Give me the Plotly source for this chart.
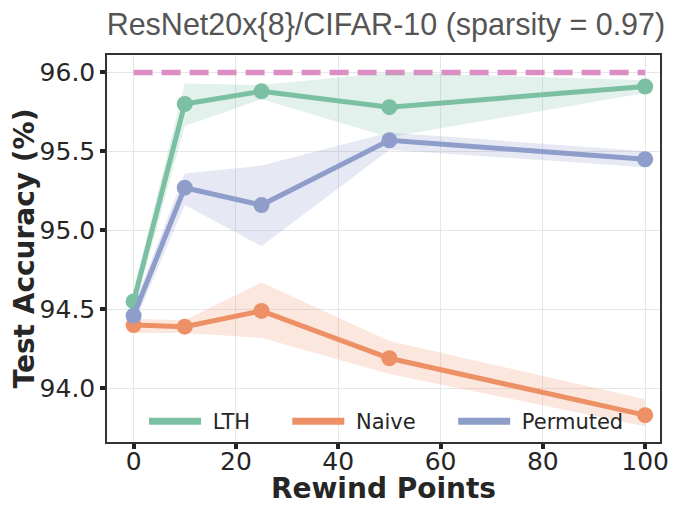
import plotly.graph_objects as go

# rewind points (x) and mean test accuracy per method
rewind = [0, 10, 25, 50, 100]

lth = [94.55, 95.80, 95.88, 95.78, 95.91]
lth_hi = [94.62, 95.93, 95.92, 96.00, 95.95]
lth_lo = [94.48, 95.66, 95.83, 95.59, 95.87]

naive = [94.40, 94.39, 94.49, 94.19, 93.83]
naive_hi = [94.44, 94.43, 94.67, 94.30, 93.93]
naive_lo = [94.35, 94.35, 94.32, 94.09, 93.76]

permuted = [94.46, 95.27, 95.16, 95.57, 95.45]
permuted_hi = [94.52, 95.36, 95.41, 95.62, 95.50]
permuted_lo = [94.40, 95.16, 94.90, 95.51, 95.40]

dense_acc = 96.0

series = [
    ("LTH", lth, lth_lo, lth_hi, "#7cc0a4", "rgba(124,192,164,0.22)"),
    ("Naive", naive, naive_lo, naive_hi, "#ee9066", "rgba(238,144,102,0.22)"),
    ("Permuted", permuted, permuted_lo, permuted_hi, "#8f9dcb", "rgba(143,157,203,0.22)"),
]
legend_ids = ["legend", "legend2", "legend3"]
legend_x = [0.067, 0.326, 0.626]

fig = go.Figure()

# dense baseline
fig.add_trace(go.Scatter(
    x=[rewind[0], rewind[-1]], y=[dense_acc, dense_acc], mode="lines",
    line=dict(color="#dc8ec4", width=5.5, dash="19px,9px"),
    showlegend=False, hoverinfo="skip"))

for name, mean, lo, hi, col, fillcol in series:
    fig.add_trace(go.Scatter(
        x=rewind + rewind[::-1], y=hi + lo[::-1], fill="toself",
        fillcolor=fillcol, line=dict(width=0), mode="lines",
        showlegend=False, hoverinfo="skip"))

for (name, mean, lo, hi, col, fillcol), lg in zip(series, legend_ids):
    fig.add_trace(go.Scatter(
        x=rewind, y=mean, name=name, mode="lines+markers",
        line=dict(color=col, width=5), marker=dict(color=col, size=16),
        showlegend=False))
    # legend entry: line only, like the reference
    fig.add_trace(go.Scatter(
        x=[None], y=[None], name="\u00a0" + name, mode="lines",
        line=dict(color=col, width=7), legend=lg))

axis_common = dict(
    showgrid=True, gridcolor="#e6e6e6", gridwidth=1,
    showline=True, linecolor="#333333", linewidth=1.5, mirror=True,
    ticks="outside", ticklen=5, tickwidth=4, tickcolor="#222222",
    tickfont=dict(family="DejaVu Sans", size=25, color="#262626"),
    zeroline=False, automargin=False,
)

fig.update_xaxes(
    range=[-5.2, 102.9], tickvals=[0, 20, 40, 60, 80, 100],
    ticklabelstandoff=-9,
    title=dict(text="<b>Rewind Points</b>", standoff=8,
               font=dict(family="DejaVu Sans", size=28, color="#262626")),
    **axis_common)
fig.update_yaxes(
    range=[93.66, 96.11], tickvals=[94.0, 94.5, 95.0, 95.5, 96.0],
    tickformat=".1f",
    title=dict(text="<b>Test Accuracy (%)</b>", standoff=0,
               font=dict(family="DejaVu Sans", size=28, color="#262626")),
    **axis_common)

legend_style = dict(orientation="h", y=0.0, yanchor="bottom", xanchor="left",
                    bgcolor="rgba(0,0,0,0)", itemwidth=52,
                    font=dict(family="DejaVu Sans", size=21, color="#262626"))

# page body adds an 8px offset, so the figure is 8px smaller than the window
fig.update_layout(
    width=672, height=497,
    margin=dict(l=99, r=20, t=47, b=63),
    plot_bgcolor="white", paper_bgcolor="white",
    title=dict(text="ResNet20x{8}/CIFAR-10 (sparsity = 0.97)",
               x=0.978, xanchor="right", y=0.968, yanchor="middle",
               font=dict(family="Liberation Sans", size=30.5, color="#555555")),
    legend=dict(x=legend_x[0], **legend_style),
    legend2=dict(x=legend_x[1], **legend_style),
    legend3=dict(x=legend_x[2], **legend_style),
)

fig.write_html("out.html")
